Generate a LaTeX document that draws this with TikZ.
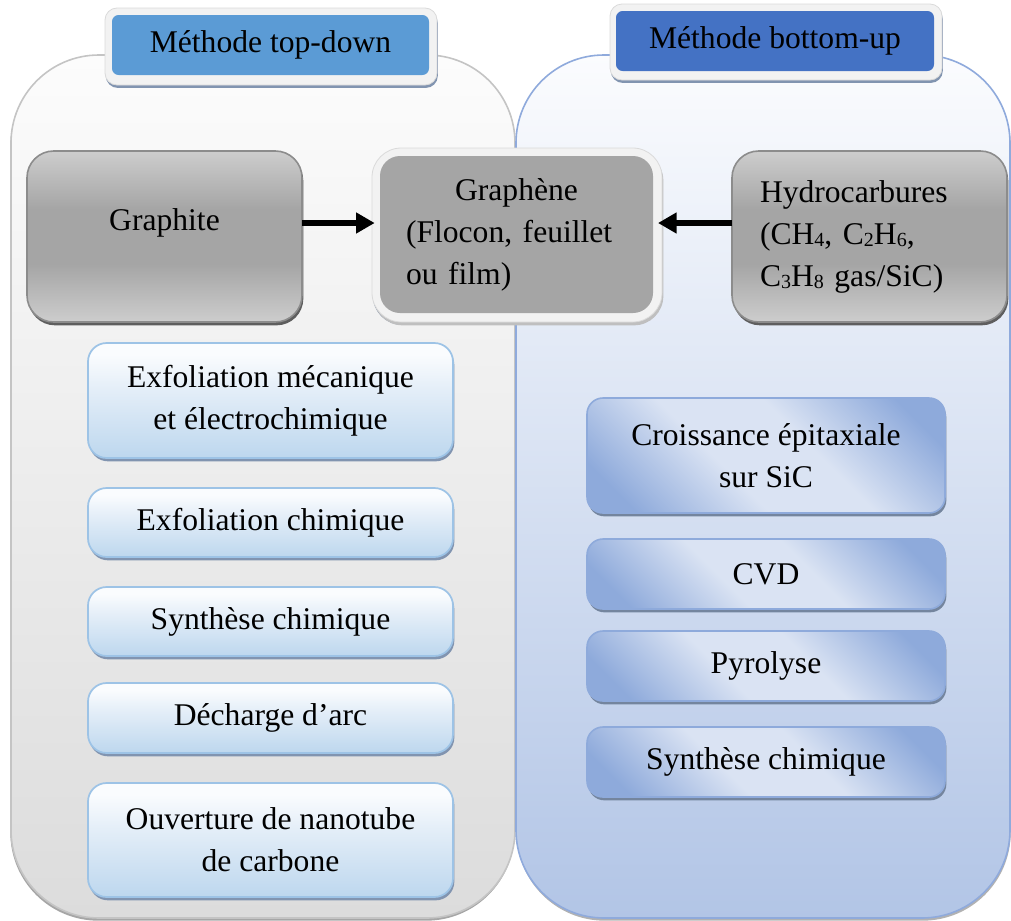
\documentclass[tikz,border=0pt]{standalone}
\usepackage{fontspec}
\setmainfont{Liberation Serif}
\usetikzlibrary{arrows.meta,shadows}

% palette
\definecolor{grA}{HTML}{CDCDCD}
\definecolor{grB}{HTML}{A5A5A5}
\definecolor{grEdge}{HTML}{8C8C8C}
\definecolor{grShadow}{HTML}{5E5E5E}
\definecolor{lbTop}{HTML}{FAFCFE}
\definecolor{lbMid}{HTML}{E4EEF8}
\definecolor{lbBot}{HTML}{BDD7EE}
\definecolor{lbEdge}{HTML}{9DC3E6}
\definecolor{bbDark}{HTML}{8EAADB}
\definecolor{bbLight}{HTML}{DAE3F3}
\definecolor{boxShadow}{HTML}{8194B0}
\definecolor{pgTop}{HTML}{FCFCFC}
\definecolor{pgBot}{HTML}{DCDCDC}
\definecolor{pgEdge}{HTML}{C4C4C4}
\definecolor{pbTop}{HTML}{FBFCFE}
\definecolor{pbBot}{HTML}{B2C5E6}
\definecolor{pbEdge}{HTML}{8FAADC}
\definecolor{frameFill}{HTML}{F2F2F2}
\definecolor{frameEdge}{HTML}{DADADA}
\definecolor{tdBlue}{HTML}{5B9BD5}
\definecolor{buBlue}{HTML}{4472C4}

% shadings (the central 25bp--75bp band covers the path)
\pgfdeclareverticalshading{greyband}{100bp}{color(0bp)=(grA); color(25bp)=(grA); color(42bp)=(grB); color(58bp)=(grB); color(75bp)=(grA); color(100bp)=(grA)}
\pgfdeclareverticalshading{paleblue}{100bp}{color(0bp)=(lbBot); color(25bp)=(lbBot); color(55bp)=(lbMid); color(70bp)=(lbTop); color(100bp)=(lbTop)}
\pgfdeclarehorizontalshading{blueband}{100bp}{color(0bp)=(bbDark); color(22bp)=(bbDark); color(42bp)=(bbLight); color(58bp)=(bbLight); color(78bp)=(bbDark); color(100bp)=(bbDark)}
\pgfdeclareverticalshading{greypanel}{100bp}{color(0bp)=(pgBot); color(25bp)=(pgBot); color(75bp)=(pgTop); color(100bp)=(pgTop)}
\pgfdeclareverticalshading{bluepanel}{100bp}{color(0bp)=(pbBot); color(25bp)=(pbBot); color(75bp)=(pbTop); color(100bp)=(pbTop)}

% a box given by its corners (x1,y1) and (x2,y2), in pixel units
\newcommand\pbox[7]{%
  \node[#1, minimum width={(#5-#3)*0.75pt}, minimum height={(#6-#4)*0.75pt}]
    (#2) at ({(#3+#5)/2},{(#4+#6)/2}) {#7};}
\newcommand\sbs[1]{\raisebox{-2.2pt}{\fontsize{15}{15}\selectfont #1}}

\tikzset{
  base/.style={rectangle, inner sep=0pt, outer sep=0pt, align=center},
  panelL/.style={base, rounded corners=66pt, shading=greypanel, draw=pgEdge, line width=1.2pt,
    drop shadow={shadow xshift=-0.5pt, shadow yshift=-2pt, fill=black!35, opacity=1}},
  panelR/.style={base, rounded corners=66pt, shading=bluepanel, draw=pbEdge, line width=1.2pt,
    drop shadow={shadow xshift=0.5pt, shadow yshift=-2pt, fill=black!30, opacity=1}},
  frame/.style={base, rounded corners=9pt, fill=frameFill, draw=frameEdge, line width=0.6pt,
    drop shadow={shadow xshift=0.6pt, shadow yshift=-2.2pt, fill=boxShadow, opacity=1}},
  title/.style={base, rounded corners=5pt},
  greybox/.style={base, rounded corners=20pt, shading=greyband, draw=grEdge, line width=1.2pt,
    drop shadow={shadow xshift=1pt, shadow yshift=-2.5pt, fill=grShadow, opacity=1}},
  core/.style={base, rounded corners=15pt, fill=grB},
  lightbox/.style={base, rounded corners=14pt, shading=paleblue, draw=lbEdge, line width=1.3pt,
    drop shadow={shadow xshift=1pt, shadow yshift=-2.5pt, fill=boxShadow, opacity=1}},
  bluebox/.style={base, rounded corners=12pt, shading=blueband, shading angle=45, draw=bbDark, line width=1.2pt,
    drop shadow={shadow xshift=1pt, shadow yshift=-2.5pt, fill=boxShadow!90!black, opacity=1}},
  arr/.style={line width=3.8pt, -{Triangle[length=14pt,width=15pt]}}
}

\begin{document}
\begin{tikzpicture}[x=0.75pt, y=-0.75pt, font=\fontsize{23.7}{31.5}\selectfont\frenchspacing]
\useasboundingbox (0,0) rectangle (1011,921);

% the two method panels
\pbox{panelL}{leftPanel}{11}{55}{515}{918}{}
\pbox{panelR}{rightPanel}{516}{55}{1010}{918}{}

% panel headings
\pbox{frame}{topdownFrame}{105}{8}{437}{85}{}
\pbox{title, fill=tdBlue}{topdownTitle}{112}{15}{429}{75}{Méthode top-down}
\pbox{frame}{bottomupFrame}{610}{4}{942}{80}{}
\pbox{title, fill=buBlue}{bottomupTitle}{616}{11}{934}{71}{Méthode bottom-up}

% sources and product
\pbox{greybox, text depth=25.8pt}{graphite}{27}{151}{302}{322}{Graphite}
\pbox{frame, rounded corners=22pt, drop shadow={shadow xshift=1pt, shadow yshift=-2.5pt, fill=black!25, opacity=1}}{graphene}{372}{148}{662}{322}{}
\pbox{core, text width={(273-52)*0.75pt}, align=left}{grapheneCore}{380}{156}{653}{313}{%
  \makebox[\linewidth]{Graphène}\\(Flocon, feuillet\\ou film)}
\pbox{greybox, text width={(275-56)*0.75pt}, align=left}{hydro}{732}{151}{1007}{322}{%
  Hydrocarbures\\(CH\sbs{4}, C\sbs{2}H\sbs{6},\\C\sbs{3}H\sbs{8} gas/SiC)}

\coordinate (arrowrow) at (0,223);
\draw[arr] (graphite.east |- arrowrow) -- ([xshift=2pt]graphene.west |- arrowrow);
\draw[arr] (hydro.west |- arrowrow) -- ([xshift=-3pt]graphene.east |- arrowrow);

% top-down routes
\pbox{lightbox}{exfMeca}{88}{343}{453}{458}{Exfoliation mécanique\\et électrochimique}
\pbox{lightbox}{exfChim}{88}{488}{453}{557}{Exfoliation chimique}
\pbox{lightbox}{synthTD}{88}{587}{453}{656}{Synthèse chimique}
\pbox{lightbox}{arc}{88}{683}{453}{753}{Décharge d’arc}
\pbox{lightbox}{nanotube}{88}{783}{453}{897}{Ouverture de nanotube\\de carbone}

% bottom-up routes
\pbox{bluebox}{epitaxy}{587}{398}{945}{513}{Croissance épitaxiale\\sur SiC}
\pbox{bluebox}{cvd}{587}{539}{945}{609}{CVD}
\pbox{bluebox}{pyro}{587}{631}{945}{701}{Pyrolyse}
\pbox{bluebox}{synthBU}{587}{727}{945}{797}{Synthèse chimique}
\end{tikzpicture}
\end{document}
